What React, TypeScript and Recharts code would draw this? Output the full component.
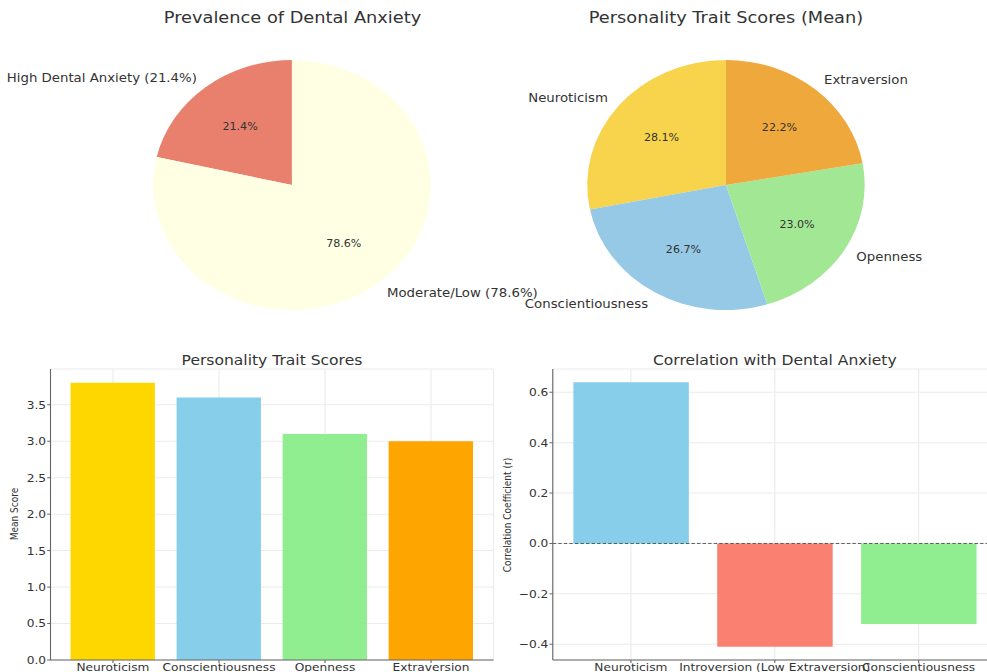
import React from "react";
import {
  PieChart,
  Pie,
  Cell,
  BarChart,
  Bar,
  XAxis,
  YAxis,
  CartesianGrid,
  ReferenceLine,
} from "recharts";

// the reference is stretched horizontally, so draw narrower and scale x back up
const STRETCH = 1.11;
const FONT = "DejaVu Sans";

const anxietyLabels = ["High Dental Anxiety (21.4%)", "Moderate/Low (78.6%)"];
const anxietyValues = [21.4, 78.6];
const anxietyColors = ["#E9806E", "#FFFFE3"];

const traitNames = ["Neuroticism", "Conscientiousness", "Openness", "Extraversion"];
const traitMeans = [3.8, 3.6, 3.1, 3.0];
const traitPieColors = ["#F7D44C", "#95C9E6", "#A2E894", "#EEA83B"];
const traitBarColors = ["#FFD700", "#87CEEB", "#90EE90", "#FFA500"];
const meanTicks = [0, 0.5, 1, 1.5, 2, 2.5, 3, 3.5];

const corrNames = ["Neuroticism", "Introversion (Low Extraversion)", "Conscientiousness"];
const corrValues = [0.64, -0.41, -0.32];
const corrColors = ["#87CEEB", "#FA8072", "#90EE90"];
const corrTicks = [-0.4, -0.2, 0, 0.2, 0.4, 0.6];

const anxietyData = anxietyLabels.map((name, i) => ({ name, value: anxietyValues[i] }));
const traitData = traitNames.map((name, i) => ({ name, value: traitMeans[i] }));
const corrData = corrNames.map((name, i) => ({ name, value: corrValues[i] }));

const RADIAN = Math.PI / 180;

function pieLabel(props: any) {
  const { cx, cy, midAngle, outerRadius, percent, name } = props;
  const cos = Math.cos(-midAngle * RADIAN);
  const sin = Math.sin(-midAngle * RADIAN);
  const ox = cx + outerRadius * 1.1 * cos;
  const oy = cy + outerRadius * 1.1 * sin;
  const ix = cx + outerRadius * 0.6 * cos;
  const iy = cy + outerRadius * 0.6 * sin;
  return (
    <g>
      <text
        x={ox}
        y={oy}
        textAnchor={cos >= 0 ? "start" : "end"}
        dominantBaseline="central"
        fontSize={12}
        fontFamily={FONT}
        fill="#333"
      >
        {name}
      </text>
      <text
        x={ix}
        y={iy}
        textAnchor="middle"
        dominantBaseline="central"
        fontSize={10}
        fontFamily={FONT}
        fill="#333"
      >
        {(percent * 100).toFixed(1)}%
      </text>
    </g>
  );
}

function fmtSigned(v: number) {
  return v < 0 ? "\u2212" + Math.abs(v).toFixed(1) : v.toFixed(1);
}

function Title({ x, y, size, children }: { x: number; y: number; size: number; children: React.ReactNode }) {
  return (
    <div
      style={{
        position: "absolute",
        left: x,
        top: y - size / 2,
        transform: "translateX(-50%)",
        fontSize: size,
        lineHeight: `${size}px`,
        whiteSpace: "nowrap",
        color: "#333",
      }}
    >
      {children}
    </div>
  );
}

function SideLabel({ x, y, children }: { x: number; y: number; children: React.ReactNode }) {
  return (
    <div
      style={{
        position: "absolute",
        left: x,
        top: y,
        transform: "translate(-50%, -50%) rotate(-90deg)",
        fontSize: 9,
        lineHeight: "9px",
        whiteSpace: "nowrap",
        color: "#333",
      }}
    >
      {children}
    </div>
  );
}

const tickStyle = { fontSize: 11, fill: "#333", fontFamily: FONT };
const axisColor = "#666";
const noMargin = { top: 0, right: 0, bottom: 0, left: 0 };

export default function App() {
  return (
    <div
      style={{
        position: "absolute",
        left: 0,
        top: 0,
        width: 987,
        height: 672,
        overflow: "hidden",
        background: "#fff",
      }}
    >
      <div
        style={{
          position: "absolute",
          left: 0,
          top: 0,
          width: 889,
          height: 672,
          transform: `scaleX(${STRETCH})`,
          transformOrigin: "0 0",
          fontFamily: FONT,
        }}
      >
        <Title x={263.5} y={18} size={16}>Prevalence of Dental Anxiety</Title>
        <Title x={654} y={18} size={16}>Personality Trait Scores (Mean)</Title>
        <Title x={245} y={360} size={14}>Personality Trait Scores</Title>
        <Title x={698} y={360} size={14}>Correlation with Dental Anxiety</Title>

        <div style={{ position: "absolute", left: 0, top: 0 }}>
          <PieChart width={889} height={335} margin={noMargin}>
            <Pie
              data={anxietyData}
              dataKey="value"
              nameKey="name"
              cx={263}
              cy={185}
              outerRadius={125}
              startAngle={90}
              endAngle={450}
              stroke="none"
              label={pieLabel}
              labelLine={false}
              isAnimationActive={false}
            >
              {anxietyData.map((d, i) => (
                <Cell key={d.name} fill={anxietyColors[i]} />
              ))}
            </Pie>
          </PieChart>
        </div>

        <div style={{ position: "absolute", left: 0, top: 0 }}>
          <PieChart width={889} height={335} margin={noMargin}>
            <Pie
              data={traitData}
              dataKey="value"
              nameKey="name"
              cx={654}
              cy={185}
              outerRadius={125}
              startAngle={90}
              endAngle={450}
              stroke="none"
              label={pieLabel}
              labelLine={false}
              isAnimationActive={false}
            >
              {traitData.map((d, i) => (
                <Cell key={d.name} fill={traitPieColors[i]} />
              ))}
            </Pie>
          </PieChart>
        </div>

        <div style={{ position: "absolute", left: 0, top: 340 }}>
          <BarChart
            width={450}
            height={340}
            data={traitData}
            margin={{ top: 29, right: 5.4, bottom: 0, left: 0 }}
            barCategoryGap="10%"
          >
            <CartesianGrid stroke="#ebebeb" />
            <XAxis
              dataKey="name"
              interval={0}
              height={20}
              padding={{ left: 8.5, right: 8.5 }}
              tick={tickStyle}
              tickSize={3}
              tickMargin={0}
              stroke={axisColor}
            />
            <YAxis
              width={45.5}
              domain={[0, 3.99]}
              ticks={meanTicks}
              tickFormatter={(v: number) => v.toFixed(1)}
              tick={tickStyle}
              tickSize={3}
              tickMargin={1}
              stroke={axisColor}
            />
            <Bar dataKey="value" isAnimationActive={false}>
              {traitData.map((d, i) => (
                <Cell key={d.name} fill={traitBarColors[i]} />
              ))}
            </Bar>
          </BarChart>
        </div>
        <SideLabel x={13.5} y={514}>Mean Score</SideLabel>

        <div style={{ position: "absolute", left: 440, top: 340 }}>
          <BarChart
            width={458}
            height={340}
            data={corrData}
            margin={{ top: 29, right: 0, bottom: 0, left: 0 }}
            barCategoryGap="10%"
          >
            <CartesianGrid stroke="#ebebeb" />
            <XAxis
              dataKey="name"
              interval={0}
              height={20}
              padding={{ left: 5.6, right: 5.6 }}
              tick={tickStyle}
              tickSize={3}
              tickMargin={0}
              stroke={axisColor}
            />
            <YAxis
              width={58}
              domain={[-0.4625, 0.6925]}
              ticks={corrTicks}
              tickFormatter={fmtSigned}
              tick={tickStyle}
              tickSize={3}
              tickMargin={1}
              stroke={axisColor}
            />
            <ReferenceLine y={0} stroke="#444" strokeDasharray="3 2" strokeWidth={0.8} />
            <Bar dataKey="value" isAnimationActive={false}>
              {corrData.map((d, i) => (
                <Cell key={d.name} fill={corrColors[i]} />
              ))}
            </Bar>
          </BarChart>
        </div>
        <SideLabel x={457.7} y={515}>Correlation Coefficient (r)</SideLabel>
      </div>
    </div>
  );
}
